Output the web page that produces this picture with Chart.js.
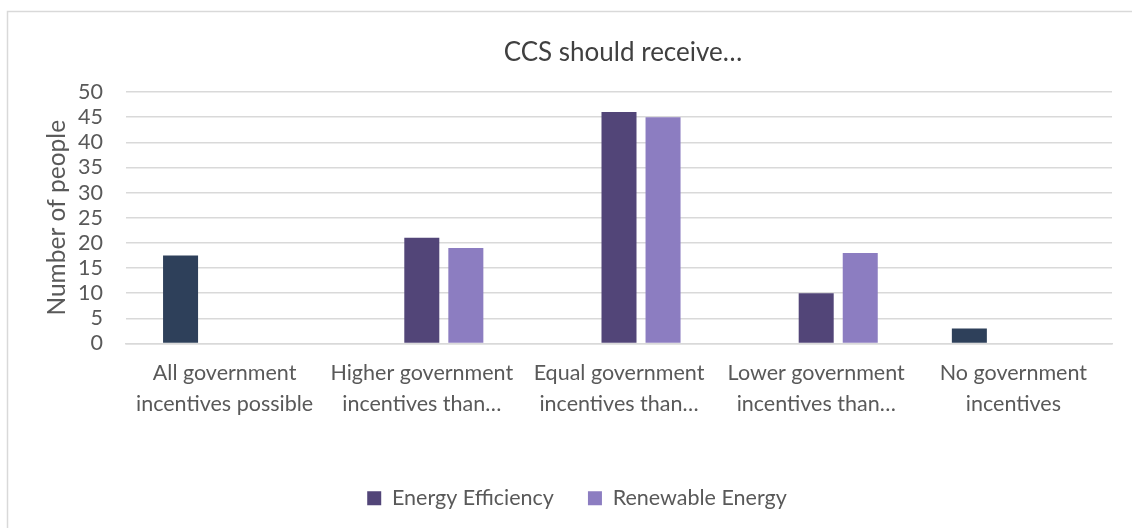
<!DOCTYPE html>
<html>
<head>
<meta charset="utf-8">
<title>CCS should receive…</title>
<script src="https://cdn.jsdelivr.net/npm/chart.js@4.4.1/dist/chart.umd.min.js"></script>
<style>
  html, body { margin: 0; padding: 0; background: #ffffff; }
  #wrap { position: absolute; left: 0; top: 0; width: 1132px; height: 528px; }
</style>
</head>
<body>
<div id="wrap"><canvas id="chart" width="1132" height="528"></canvas></div>
<script>
// Survey answers: how much government support CCS should get
const categories = [
  ['All government', 'incentives possible'],
  ['Higher government', 'incentives than…'],
  ['Equal government', 'incentives than…'],
  ['Lower government', 'incentives than…'],
  ['No government', 'incentives']
];
// Answers that do not compare CCS with another technology
const standaloneValues = [17.5, null, null, null, 3];
// Answers comparing CCS with energy efficiency / renewable energy
const energyEfficiency = [null, 21, 46, 10, null];
const renewableEnergy = [null, 19, 45, 18, null];
const yTicks = [0, 5, 10, 15, 20, 25, 30, 35, 40, 45, 50];

const chartTitle = 'CCS should receive…';
const yAxisTitle = 'Number of people';

const FONT = 'Lato, "Open Sans", sans-serif';
const TEXT = '#595959';
const GRID = '#d9d9d9';

// White page, the thin frame around the chart and the heading
const framePlugin = {
  id: 'frame',
  beforeDraw(chart) {
    const ctx = chart.ctx;
    ctx.save();
    ctx.fillStyle = '#ffffff';
    ctx.fillRect(0, 0, chart.width, chart.height);
    ctx.strokeStyle = '#d9d9d9';
    ctx.lineWidth = 1.5;
    ctx.beginPath();
    ctx.moveTo(7.5, chart.height);
    ctx.lineTo(7.5, 11.5);
    ctx.lineTo(chart.width, 11.5);
    ctx.stroke();
    ctx.restore();
  },
  afterDraw(chart) {
    const ctx = chart.ctx;
    ctx.save();
    ctx.fillStyle = '#404040';
    ctx.font = '26px ' + FONT;
    ctx.textAlign = 'center';
    ctx.textBaseline = 'alphabetic';
    ctx.fillText(chartTitle, 623, 61);
    ctx.restore();
  }
};

new Chart(document.getElementById('chart'), {
  type: 'bar',
  data: {
    labels: categories,
    datasets: [
      { label: 'CCS', data: standaloneValues, backgroundColor: '#2e405a' },
      { label: 'Energy Efficiency', data: energyEfficiency, backgroundColor: '#524578' },
      { label: 'Renewable Energy', data: renewableEnergy, backgroundColor: '#8c7dc1' }
    ]
  },
  options: {
    responsive: false,
    animation: false,
    devicePixelRatio: 1,
    categoryPercentage: 0.67,
    barPercentage: 0.795,
    layout: { padding: { left: 42, right: 20, top: 92, bottom: 9 } },
    plugins: {
      title: { display: false },
      tooltip: { enabled: false },
      legend: {
        position: 'bottom',
        labels: {
          filter: item => item.datasetIndex > 0,
          boxWidth: 14,
          boxHeight: 14,
          padding: 34,
          color: TEXT,
          font: { family: FONT, size: 21.5 }
        }
      }
    },
    scales: {
      x: {
        grid: { display: false, drawTicks: false },
        border: { display: true, color: GRID, width: 1.5 },
        ticks: {
          color: TEXT,
          padding: 15,
          maxRotation: 0,
          autoSkip: false,
          font: { family: FONT, size: 21.5, lineHeight: 1.4 }
        },
        afterFit(scale) { scale.height = 110; }
      },
      y: {
        min: 0,
        max: 50,
        afterBuildTicks(scale) { scale.ticks = yTicks.map(v => ({ value: v })); },
        grid: { color: GRID, lineWidth: 1.5, drawTicks: false },
        border: { display: false },
        ticks: {
          color: TEXT,
          padding: 23,
          autoSkip: false,
          font: { family: FONT, size: 21.5 }
        },
        title: {
          display: true,
          text: yAxisTitle,
          color: TEXT,
          padding: { top: 0, bottom: 0 },
          font: { family: FONT, size: 24.5 }
        },
        afterFit(scale) { scale.width = 84; }
      }
    }
  },
  plugins: [framePlugin]
});
</script>
</body>
</html>
